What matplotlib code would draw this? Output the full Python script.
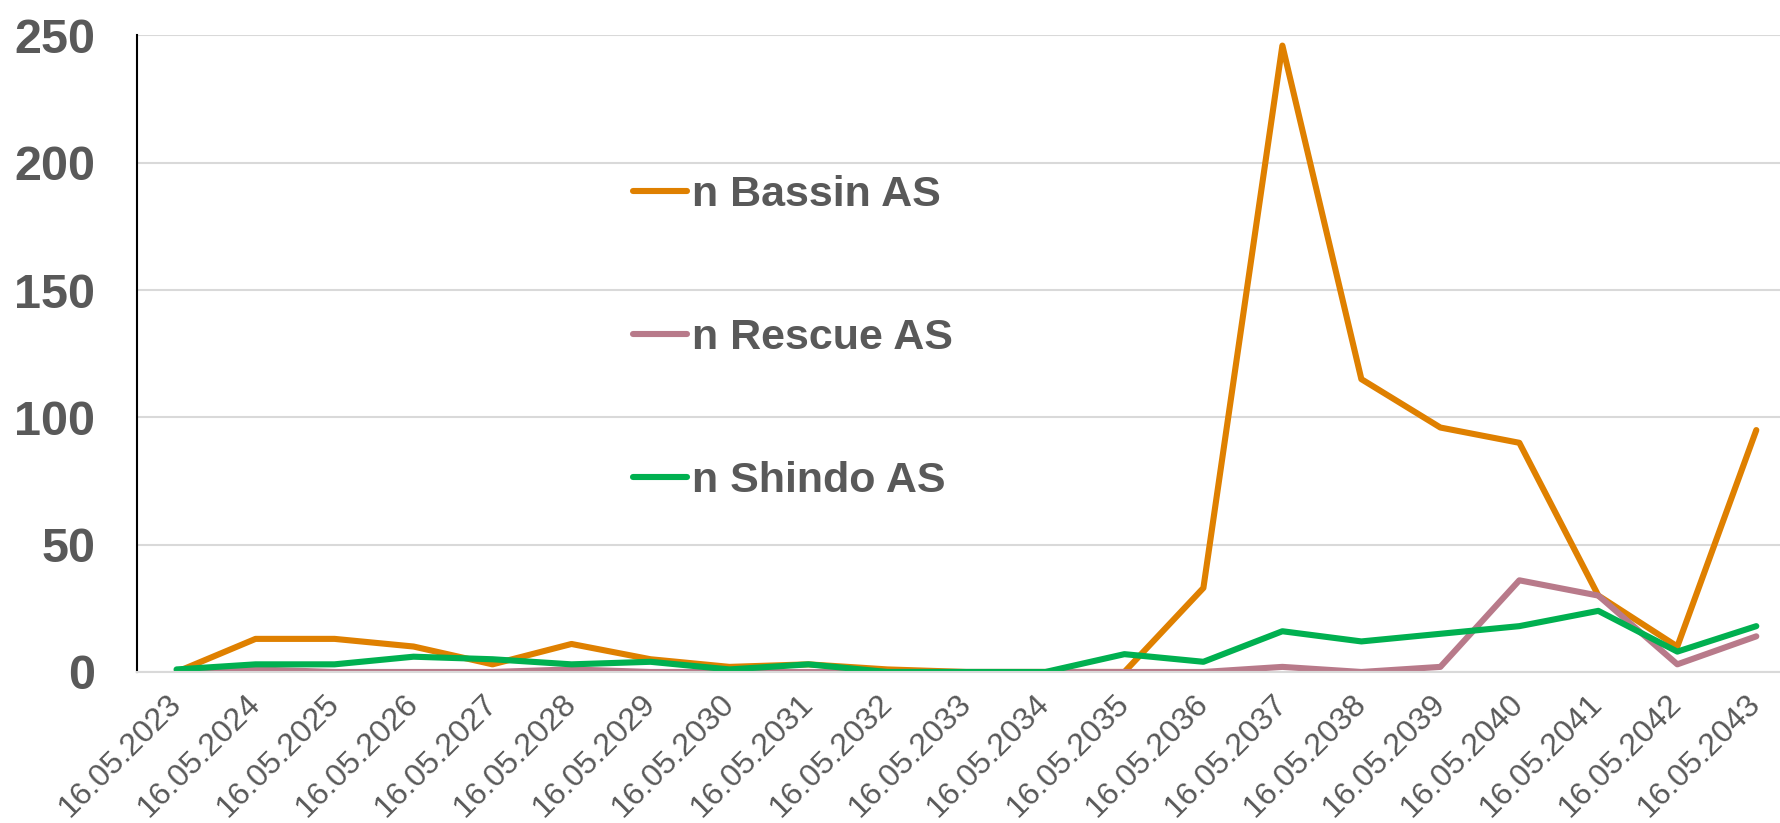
import matplotlib
matplotlib.use('Agg')
import matplotlib.pyplot as plt

# data
dates = ['16.05.%d' % y for y in range(2023, 2044)]
bassin = [0, 13, 13, 10, 3, 11, 5, 2, 3, 1, 0, 0, 0, 33, 246, 115, 96, 90, 30, 10, 95]
rescue = [0, 1, 0, 0, 0, 1, 0, 0, 0, 0, 0, 0, 0, 0, 2, 0, 2, 36, 30, 3, 14]
shindo = [1, 3, 3, 6, 5, 3, 4, 1, 3, 0, 0, 0, 7, 4, 16, 12, 15, 18, 24, 8, 18]

plt.rcParams['font.family'] = ['Liberation Sans', 'DejaVu Sans']
txt = '#595959'

fig = plt.figure(figsize=(17.8, 8.23), dpi=100)
ax = fig.add_axes([0.077, 0.1835, 0.923, 0.7735])

x = range(len(dates))
ax.plot(x, bassin, color='#DF8000', lw=4.4, label='n Bassin AS', solid_capstyle='round')
ax.plot(x, rescue, color='#B87A8A', lw=4.4, label='n Rescue AS', solid_capstyle='round')
ax.plot(x, shindo, color='#00B050', lw=4.4, label='n Shindo AS', solid_capstyle='round')

ax.set_xlim(-0.5, 20.3)
ax.set_ylim(0, 250)
ax.set_yticks([0, 50, 100, 150, 200, 250])
ax.set_xticks(list(x))
ax.set_xticklabels(dates, rotation=45, ha='right', va='center', rotation_mode='anchor')
ax.grid(axis='y', color='#D9D9D9', lw=1.5)
ax.set_axisbelow(True)
ax.tick_params(axis='both', length=0)
ax.tick_params(axis='y', labelsize=35, labelcolor=txt, pad=30)
ax.tick_params(axis='x', labelsize=23, labelcolor=txt, pad=20)
for lab in ax.get_yticklabels():
    lab.set_fontweight('bold')

for s in ['top', 'right']:
    ax.spines[s].set_visible(False)
ax.spines['bottom'].set_color('#D9D9D9')
ax.spines['bottom'].set_linewidth(1.5)
ax.spines['left'].set_color('black')
ax.spines['left'].set_linewidth(1.5)

leg = ax.legend(loc='upper left', bbox_to_anchor=(0.278, 0.842), frameon=False,
                fontsize=31, handlelength=1.27, handletextpad=0.1, labelspacing=2.4)
for t in leg.get_texts():
    t.set_color(txt)
    t.set_fontweight('bold')

fig.savefig('out.png', dpi=100)
